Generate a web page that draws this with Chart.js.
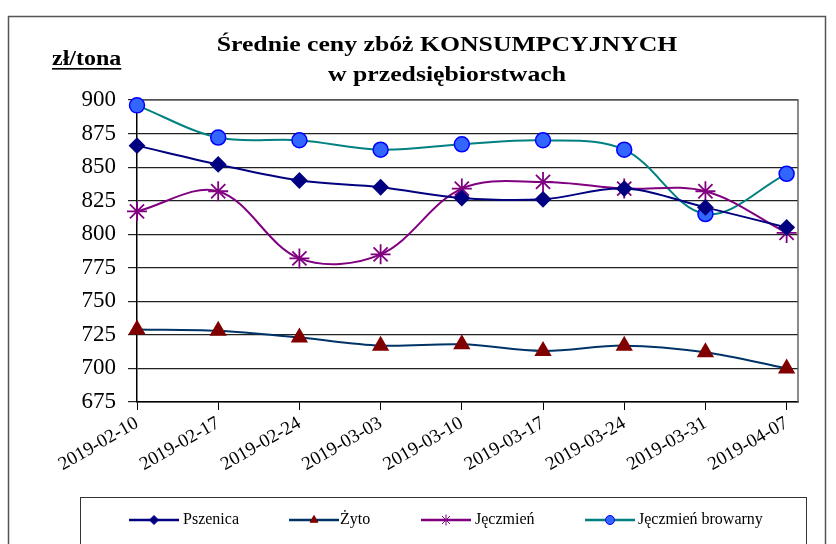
<!DOCTYPE html>
<html>
<head>
<meta charset="utf-8">
<script src="https://cdn.jsdelivr.net/npm/chart.js@4/dist/chart.umd.min.js"></script>
<style>
  html, body { margin: 0; padding: 0; background: #fff; }
  #wrap { width: 836px; height: 544px; }
</style>
</head>
<body>
<div id="wrap"><canvas id="chart" width="836" height="544"></canvas></div>
<script>
// categories (weeks)
var weeks = ['2019-02-10', '2019-02-17', '2019-02-24', '2019-03-03', '2019-03-10',
             '2019-03-17', '2019-03-24', '2019-03-31', '2019-04-07'];

// prices, zl/tona
var pszenica = [866, 852, 840, 835, 827, 826, 834, 820, 805];
var zyto = [729, 728, 723, 717, 718, 713, 717, 712, 700];
var jeczmien = [817, 832, 782, 785, 834, 839, 834, 832, 801];
var browarny = [896, 872, 870, 863, 867, 870, 863, 815, 845];

var yTicks = { min: 675, max: 900, step: 25 };

var serif = "'Liberation Serif', 'Times New Roman', serif";

function pts(arr) {
    return arr.map(function (v, i) { return { x: i, y: v }; });
}

var frame = {
    id: 'frame',
    beforeDraw: function (chart) {
        var ctx = chart.ctx;
        ctx.save();
        ctx.fillStyle = '#fff';
        ctx.fillRect(0, 0, chart.width, chart.height);
        ctx.strokeStyle = '#555';
        ctx.lineWidth = 1.5;
        ctx.strokeRect(8.5, 16.5, 817, 600);
        ctx.restore();
    },
    beforeDatasetsDraw: function (chart) {
        var a = chart.chartArea, ctx = chart.ctx;
        ctx.save();
        ctx.strokeStyle = '#666';
        ctx.lineWidth = 1.5;
        ctx.beginPath();
        ctx.moveTo(a.left, a.top);
        ctx.lineTo(a.right, a.top);
        ctx.lineTo(a.right, a.bottom);
        ctx.stroke();
        ctx.restore();
    },
    afterDraw: function (chart) {
        var ctx = chart.ctx;
        ctx.save();
        // title
        ctx.fillStyle = '#000';
        ctx.textAlign = 'center';
        ctx.textBaseline = 'alphabetic';
        ctx.font = 'bold 22px ' + serif;
        ctx.save();
        ctx.translate(447, 51);
        ctx.scale(1.17, 1);
        ctx.fillText('Średnie ceny zbóż KONSUMPCYJNYCH', 0, 0);
        ctx.restore();
        ctx.save();
        ctx.translate(447, 81);
        ctx.scale(1.17, 1);
        ctx.fillText('w przedsiębiorstwach', 0, 0);
        ctx.restore();

        // unit label
        ctx.save();
        ctx.textAlign = 'left';
        ctx.translate(52, 65);
        ctx.scale(1.2, 1);
        ctx.font = 'bold 20px ' + serif;
        var w = ctx.measureText('zł/tona').width;
        ctx.fillText('zł/tona', 0, 0);
        ctx.fillRect(0, 3, w, 1.6);
        ctx.restore();

        // legend box
        ctx.strokeStyle = '#333';
        ctx.lineWidth = 1;
        ctx.strokeRect(80.5, 497.5, 726, 80);
        var items = [
            { x: 129, tx: 183 },
            { x: 289, tx: 340 },
            { x: 421, tx: 475 },
            { x: 585, tx: 638 }
        ];
        var ly = 520;
        chart.data.datasets.forEach(function (ds, i) {
            var it = items[i];
            ctx.strokeStyle = ds.borderColor;
            ctx.lineWidth = 2.5;
            ctx.beginPath();
            ctx.moveTo(it.x, ly);
            ctx.lineTo(it.x + 50, ly);
            ctx.stroke();
            ctx.fillStyle = ds.pointBackgroundColor;
            ctx.strokeStyle = ds.pointBorderColor;
            ctx.lineWidth = 1;
            Chart.helpers.drawPoint(ctx, {
                pointStyle: ds.pointStyle,
                radius: ds.pointStyle === 'star' ? 5.5 : 4.5,
                rotation: 0,
                borderWidth: 1
            }, it.x + 25, ly);
            ctx.fillStyle = '#000';
            ctx.textAlign = 'left';
            ctx.textBaseline = 'middle';
            ctx.font = '16px ' + serif;
            ctx.fillText(ds.label, it.tx, ly);
        });
        ctx.restore();
    }
};

new Chart('chart', {
    type: 'line',
    data: {
        datasets: [{
            label: 'Pszenica',
            data: pts(pszenica),
            borderColor: '#000080',
            borderWidth: 2,
            pointStyle: 'rectRot',
            pointRadius: 7,
            pointBackgroundColor: '#000080',
            pointBorderColor: '#000080',
            tension: 0.35,
            clip: false
        }, {
            label: 'Żyto',
            data: pts(zyto),
            borderColor: '#003366',
            borderWidth: 2,
            pointStyle: 'triangle',
            pointRadius: 8,
            pointBackgroundColor: '#800000',
            pointBorderColor: '#800000',
            tension: 0.35,
            clip: false
        }, {
            label: 'Jęczmień',
            data: pts(jeczmien),
            borderColor: '#800080',
            borderWidth: 2,
            pointStyle: 'star',
            pointRadius: 10,
            pointBorderWidth: 1.8,
            pointBackgroundColor: '#800080',
            pointBorderColor: '#800080',
            tension: 0.35,
            clip: false
        }, {
            label: 'Jęczmień browarny',
            data: pts(browarny),
            borderColor: '#008080',
            borderWidth: 2,
            pointStyle: 'circle',
            pointRadius: 7.5,
            pointBorderWidth: 1.5,
            pointBackgroundColor: '#3366FF',
            pointBorderColor: '#0000FF',
            tension: 0.35,
            clip: false
        }]
    },
    options: {
        responsive: false,
        animation: false,
        layout: { padding: { top: 100, right: 38, left: 0, bottom: 0 } },
        plugins: {
            legend: { display: false },
            title: { display: false },
            tooltip: { enabled: false }
        },
        scales: {
            x: {
                type: 'linear',
                min: 0,
                max: weeks.length - 1 + 0.14,
                afterBuildTicks: function (s) {
                    s.ticks = weeks.map(function (w, i) { return { value: i }; });
                },
                afterFit: function (s) { s.height = 142; },
                ticks: {
                    stepSize: 1,
                    autoSkip: false,
                    minRotation: 30,
                    maxRotation: 30,
                    padding: 2,
                    color: '#000',
                    font: { family: serif, size: 19 },
                    callback: function (v) { return weeks[v]; }
                },
                grid: { drawOnChartArea: false, drawTicks: true, tickLength: 8, color: '#000' },
                border: { color: '#000', width: 1.5 }
            },
            y: {
                min: yTicks.min,
                max: yTicks.max,
                afterFit: function (s) { s.width = 137; },
                ticks: {
                    stepSize: yTicks.step,
                    padding: 12,
                    color: '#000',
                    font: { family: serif, size: 23 }
                },
                grid: { color: '#222', lineWidth: 1.2, tickLength: 9 },
                border: { color: '#000', width: 1.5 }
            }
        }
    },
    plugins: [frame]
});
</script>
</body>
</html>
